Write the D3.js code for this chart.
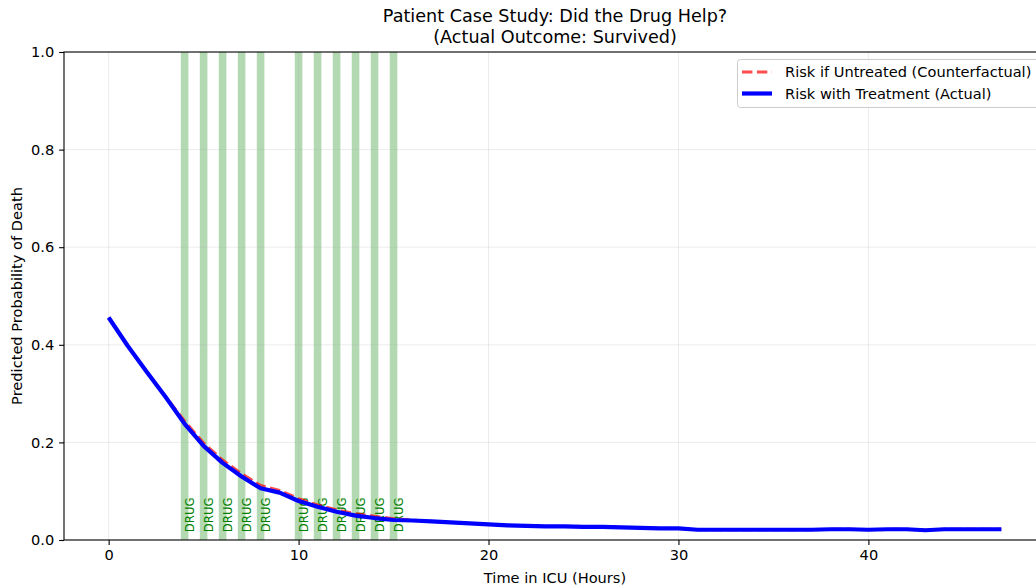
<!DOCTYPE html>
<html>
<head>
<meta charset="utf-8">
<script src="https://cdn.jsdelivr.net/npm/d3@7"></script>
<style>
  body { margin: 0; background: #fff; }
  svg { display: block; font-family: "DejaVu Sans", sans-serif; }
</style>
</head>
<body>
<div id="chart"></div>
<script>
// hours in ICU
var hours = d3.range(0, 48);
// predicted risk with the drug given (actual)
var riskTreated = [0.456, 0.398, 0.345, 0.293, 0.238, 0.193, 0.158, 0.130, 0.106, 0.097,
                   0.080, 0.068, 0.058, 0.050, 0.045, 0.041, 0.040, 0.038, 0.036, 0.034,
                   0.032, 0.030, 0.029, 0.028, 0.028, 0.027, 0.027, 0.026, 0.025, 0.024,
                   0.024, 0.021, 0.021, 0.021, 0.021, 0.021, 0.021, 0.021, 0.022, 0.022,
                   0.021, 0.022, 0.022, 0.020, 0.022, 0.022, 0.022, 0.022];
// predicted risk if the drug had not been given (counterfactual)
var riskUntreated = [0.456, 0.398, 0.345, 0.294, 0.244, 0.199, 0.164, 0.136, 0.112, 0.102,
                     0.085, 0.072, 0.062, 0.054, 0.049, 0.044, 0.041, 0.038, 0.036, 0.034,
                     0.032, 0.030, 0.029, 0.028, 0.028, 0.027, 0.027, 0.026, 0.025, 0.024,
                     0.024, 0.021, 0.021, 0.021, 0.021, 0.021, 0.021, 0.021, 0.022, 0.022,
                     0.021, 0.022, 0.022, 0.020, 0.022, 0.022, 0.022, 0.022];
// hours the drug was given
var drugHours = [4, 5, 6, 7, 8, 10, 11, 12, 13, 14, 15];
var xTicks = [0, 10, 20, 30, 40];
var yTicks = [0, 0.2, 0.4, 0.6, 0.8, 1.0];

var W = 1036, H = 588;
// axes box (right edge runs past the picture, as in the original)
var margin = { left: 64, right: 1046, top: 52, bottom: 540 };

var svg = d3.select('#chart').append('svg')
  .attr('width', W)
  .attr('height', H);

var x = d3.scaleLinear().domain([-2.35, 49.35]).range([margin.left, margin.right]);
var y = d3.scaleLinear().domain([0, 1]).range([margin.bottom, margin.top]);

svg.append('clipPath').attr('id', 'plot')
  .append('rect')
  .attr('x', margin.left).attr('y', margin.top)
  .attr('width', margin.right - margin.left).attr('height', margin.bottom - margin.top);

var plot = svg.append('g').attr('clip-path', 'url(#plot)');

// drug spans
plot.selectAll('rect.drug')
  .data(drugHours)
  .enter().append('rect')
  .attr('class', 'drug')
  .attr('x', function(d) { return x(d - 0.2); })
  .attr('width', function(d) { return x(d + 0.2) - x(d - 0.2); })
  .attr('y', y(1))
  .attr('height', y(0) - y(1))
  .attr('fill', 'green')
  .attr('fill-opacity', 0.3);

// grid
plot.selectAll('line.gx')
  .data(xTicks)
  .enter().append('line')
  .attr('x1', function(d) { return x(d); })
  .attr('x2', function(d) { return x(d); })
  .attr('y1', margin.top).attr('y2', margin.bottom)
  .attr('stroke', '#b0b0b0').attr('stroke-opacity', 0.3).attr('stroke-width', 0.8);

plot.selectAll('line.gy')
  .data(yTicks)
  .enter().append('line')
  .attr('x1', margin.left).attr('x2', margin.right)
  .attr('y1', function(d) { return y(d); })
  .attr('y2', function(d) { return y(d); })
  .attr('stroke', '#b0b0b0').attr('stroke-opacity', 0.3).attr('stroke-width', 0.8);

// DRUG labels
plot.selectAll('text.drug')
  .data(drugHours)
  .enter().append('text')
  .attr('transform', function(d) { return 'translate(' + (x(d) + 9) + ',' + (y(0.02) + 2) + ')rotate(-90)'; })
  .attr('fill', 'green')
  .attr('font-size', '11.7px')
  .text('DRUG');

var line = d3.line()
  .x(function(d, i) { return x(hours[i]); })
  .y(function(d) { return y(d); });

plot.append('path')
  .datum(riskUntreated)
  .attr('fill', 'none')
  .attr('stroke', 'red')
  .attr('stroke-opacity', 0.7)
  .attr('stroke-width', 2.8)
  .attr('stroke-dasharray', '10.4,4.5')
  .attr('d', line);

plot.append('path')
  .datum(riskTreated)
  .attr('fill', 'none')
  .attr('stroke', 'blue')
  .attr('stroke-width', 4.2)
  .attr('stroke-linejoin', 'round')
  .attr('d', line);

// axes
var xAxis = d3.axisBottom(x).tickValues(xTicks).tickSize(4.9).tickPadding(4.9)
  .tickFormat(d3.format('d'));
var gx = svg.append('g')
  .attr('transform', 'translate(0,' + margin.bottom + ')')
  .call(xAxis);

var yAxis = d3.axisLeft(y).tickValues(yTicks).tickSize(4.9).tickPadding(4.9)
  .tickFormat(d3.format('.1f'));
var gy = svg.append('g')
  .attr('transform', 'translate(' + margin.left + ',0)')
  .call(yAxis);

[gx, gy].forEach(function(g) {
  g.select('.domain').remove();
  g.selectAll('line').attr('stroke', '#000').attr('stroke-width', 1.1);
  g.selectAll('text').attr('font-size', '14.6px').attr('fill', '#000')
    .attr('font-family', '"DejaVu Sans", sans-serif');
});

// spines
svg.append('rect')
  .attr('x', margin.left).attr('y', margin.top)
  .attr('width', margin.right - margin.left).attr('height', margin.bottom - margin.top)
  .attr('fill', 'none').attr('stroke', '#000').attr('stroke-width', 1.1);

// titles
var cx = (margin.left + margin.right) / 2;
svg.append('text')
  .attr('x', cx).attr('y', 22)
  .attr('text-anchor', 'middle').attr('font-size', '17.6px')
  .text('Patient Case Study: Did the Drug Help?');
svg.append('text')
  .attr('x', cx).attr('y', 43)
  .attr('text-anchor', 'middle').attr('font-size', '17.6px')
  .text('(Actual Outcome: Survived)');

svg.append('text')
  .attr('x', cx).attr('y', 583)
  .attr('text-anchor', 'middle').attr('font-size', '14.6px')
  .text('Time in ICU (Hours)');

svg.append('text')
  .attr('transform', 'translate(22,' + ((margin.top + margin.bottom) / 2) + ')rotate(-90)')
  .attr('text-anchor', 'middle').attr('font-size', '14.6px')
  .text('Predicted Probability of Death');

// legend
var legendItems = [
  { label: 'Risk if Untreated (Counterfactual)', color: 'red', opacity: 0.7, width: 2.8, dash: '10.4,4.5' },
  { label: 'Risk with Treatment (Actual)', color: 'blue', opacity: 1, width: 4.2, dash: null }
];
var lg = svg.append('g');
lg.append('rect')
  .attr('x', 737.5).attr('y', 59.5)
  .attr('width', 304).attr('height', 48)
  .attr('rx', 3)
  .attr('fill', '#fff').attr('fill-opacity', 0.8)
  .attr('stroke', '#cccccc').attr('stroke-width', 1);
var items = lg.selectAll('g.item')
  .data(legendItems)
  .enter().append('g')
  .attr('transform', function(d, i) { return 'translate(0,' + (72 + i * 21.5) + ')'; });
items.append('line')
  .attr('x1', 742).attr('x2', 772)
  .attr('stroke', function(d) { return d.color; })
  .attr('stroke-opacity', function(d) { return d.opacity; })
  .attr('stroke-width', function(d) { return d.width; })
  .attr('stroke-dasharray', function(d) { return d.dash; });
items.append('text')
  .attr('x', 785).attr('dy', '0.36em')
  .attr('font-size', '14.6px')
  .text(function(d) { return d.label; });
</script>
</body>
</html>
